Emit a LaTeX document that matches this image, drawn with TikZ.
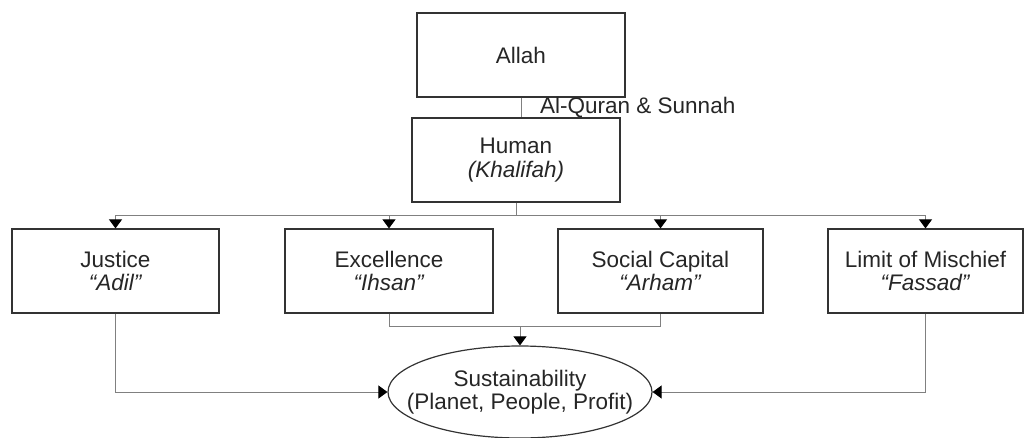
\documentclass[tikz,border=0pt]{standalone}
\usepackage{fontspec}
\setmainfont{Liberation Sans}
\usetikzlibrary{arrows.meta,shapes.geometric}

\begin{document}
\begin{tikzpicture}[x=1pt,y=-1pt,
    every node/.style={font=\fontsize{22.5}{22.5}\selectfont,text=black!85},
    box/.style={draw=black!80,line width=1.2pt,minimum width=208pt,minimum height=84pt,align=center,inner sep=2pt},
    link/.style={draw=black!50,line width=0.9pt},
    tip/.style={link,-{Triangle[width=13pt,length=9pt,black]}}]
    \useasboundingbox (0,0) rectangle (1029,437);

    % boxes
    \node[box] (allah) at (521,55) {Allah};
    \node[box] (human) at (516,160) {Human\\[1pt]\textit{(Khalifah)}};
    \node[box,minimum width=207pt] (justice) at (115.5,271) {Justice\\\textit{“Adil”}};
    \node[box] (excellence) at (389,271) {Excellence\\\textit{“Ihsan”}};
    \node[box,minimum width=205pt] (social) at (660.5,271) {Social Capital\\\textit{“Arham”}};
    \node[box,minimum width=195pt] (mischief) at (925.5,271) {Limit of Mischief\\\textit{“Fassad”}};
    \node[draw=black!80,line width=1.2pt,ellipse,minimum width=264pt,minimum height=92pt,inner sep=0pt] (sust) at (520,392) {};
    \node[align=center] at (sust.center) {Sustainability\\(Planet, People, Profit)};

    % guidance
    \draw[link] (allah.south) -- (allah.south |- human.north);
    \node[anchor=west,inner sep=0pt] (quran) at (540,107) {Al-Quran \& Sunnah};

    % spread to the four values
    \coordinate (bus) at (0,215);
    \draw[link] (human.south) -- (human.south |- bus);
    \draw[link] (justice.north |- bus) -- (mischief.north |- bus);
    \draw[tip] (justice.north |- bus) -- (justice.north);
    \draw[tip] (excellence.north |- bus) -- (excellence.north);
    \draw[tip] (social.north |- bus) -- (social.north);
    \draw[tip] (mischief.north |- bus) -- (mischief.north);

    % into sustainability
    \coordinate (join) at (0,326);
    \draw[link] (excellence.south) -- (excellence.south |- join) -- (social.south |- join) -- (social.south);
    \draw[tip] (sust.north |- join) -- (sust.north);
    \draw[tip] (justice.south) |- (sust.west);
    \draw[tip] (mischief.south) |- (sust.east);
\end{tikzpicture}
\end{document}
